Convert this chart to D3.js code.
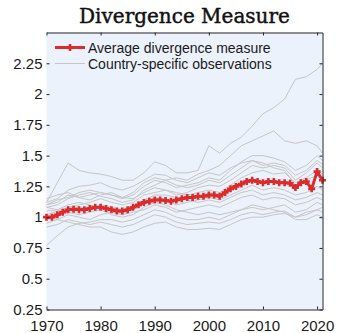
<!DOCTYPE html>
<html>
<head>
<meta charset="utf-8">
<script src="https://cdn.jsdelivr.net/npm/d3@7"></script>
<style>
  html, body { margin: 0; padding: 0; background: #ffffff; }
  svg { display: block; }
</style>
</head>
<body>
<svg id="chart" width="338" height="333"></svg>
<script>
// Average divergence measure, one value per year
const avgYears = d3.range(1970, 2022);
const avgValues = [
  1.00, 1.00, 1.02, 1.04, 1.06, 1.065, 1.06, 1.06, 1.07, 1.08,
  1.08, 1.07, 1.06, 1.05, 1.05, 1.06, 1.08, 1.10, 1.12, 1.13,
  1.14, 1.14, 1.135, 1.13, 1.14, 1.15, 1.16, 1.16, 1.17, 1.17,
  1.18, 1.18, 1.17, 1.20, 1.23, 1.25, 1.27, 1.29, 1.30, 1.29,
  1.28, 1.29, 1.29, 1.28, 1.28, 1.275, 1.24, 1.28, 1.29, 1.23,
  1.37, 1.30
];

// Country-specific observations, sampled every two years plus 2021
const countryYears = [1970, 1972, 1974, 1976, 1978, 1980, 1982, 1984, 1986, 1988,
  1990, 1992, 1994, 1996, 1998, 2000, 2002, 2004, 2006, 2008,
  2010, 2012, 2014, 2016, 2018, 2020, 2021];
const country01 = [1.12, 1.28, 1.44, 1.38, 1.36, 1.35, 1.33, 1.30, 1.30, 1.36, 1.45, 1.42, 1.36, 1.36, 1.38, 1.58, 1.52, 1.60, 1.65, 1.74, 1.84, 1.89, 1.96, 2.12, 2.14, 2.20, 2.25];
const country02 = [1.08, 1.10, 1.15, 1.18, 1.20, 1.17, 1.15, 1.12, 1.14, 1.22, 1.26, 1.30, 1.32, 1.30, 1.35, 1.38, 1.42, 1.50, 1.58, 1.62, 1.66, 1.70, 1.62, 1.60, 1.62, 1.58, 1.52];
const country03 = [1.10, 1.12, 1.18, 1.16, 1.18, 1.20, 1.18, 1.15, 1.18, 1.25, 1.30, 1.28, 1.24, 1.26, 1.28, 1.32, 1.30, 1.38, 1.45, 1.50, 1.50, 1.48, 1.45, 1.38, 1.42, 1.50, 1.46];
const country04 = [1.15, 1.18, 1.20, 1.16, 1.14, 1.18, 1.20, 1.16, 1.15, 1.20, 1.24, 1.22, 1.18, 1.20, 1.24, 1.26, 1.25, 1.30, 1.36, 1.42, 1.40, 1.42, 1.40, 1.30, 1.36, 1.44, 1.40];
const country05 = [1.02, 1.05, 1.08, 1.10, 1.12, 1.15, 1.12, 1.10, 1.12, 1.18, 1.20, 1.22, 1.20, 1.18, 1.20, 1.22, 1.20, 1.26, 1.32, 1.36, 1.38, 1.35, 1.36, 1.28, 1.32, 1.38, 1.35];
const country06 = [0.98, 1.00, 1.06, 1.08, 1.06, 1.10, 1.08, 1.06, 1.08, 1.12, 1.16, 1.14, 1.10, 1.12, 1.14, 1.16, 1.14, 1.18, 1.22, 1.26, 1.22, 1.24, 1.22, 1.18, 1.20, 1.25, 1.22];
const country07 = [0.95, 0.98, 1.02, 1.00, 0.98, 1.02, 1.04, 1.02, 1.04, 1.06, 1.10, 1.08, 1.04, 1.06, 1.08, 1.10, 1.08, 1.12, 1.16, 1.18, 1.14, 1.16, 1.15, 1.10, 1.12, 1.16, 1.14];
const country08 = [1.00, 0.98, 0.96, 0.94, 0.92, 0.92, 0.88, 0.86, 0.88, 0.92, 0.95, 0.96, 0.92, 0.90, 0.90, 0.91, 0.90, 0.94, 0.98, 1.00, 1.00, 1.02, 1.03, 1.00, 1.04, 1.06, 1.08];
const country09 = [0.77, 0.85, 0.92, 0.95, 0.96, 0.98, 0.98, 0.96, 0.98, 1.02, 1.06, 1.04, 1.00, 0.98, 0.98, 1.00, 0.98, 1.02, 1.06, 1.08, 1.06, 1.08, 1.10, 1.04, 1.06, 1.12, 1.10];
const country10 = [1.05, 1.06, 1.04, 1.02, 1.04, 1.06, 1.02, 1.00, 1.02, 1.08, 1.12, 1.10, 1.06, 1.04, 1.02, 1.04, 1.02, 1.04, 1.06, 1.10, 1.08, 1.06, 1.04, 0.98, 0.98, 1.02, 1.00];
const country11 = [1.12, 1.15, 1.22, 1.25, 1.26, 1.28, 1.24, 1.22, 1.25, 1.30, 1.35, 1.34, 1.30, 1.28, 1.32, 1.36, 1.34, 1.40, 1.44, 1.46, 1.44, 1.40, 1.38, 1.26, 1.30, 1.34, 1.30];
const country12 = [1.08, 1.06, 1.10, 1.12, 1.10, 1.08, 1.06, 1.04, 1.06, 1.14, 1.18, 1.18, 1.16, 1.14, 1.12, 1.14, 1.12, 1.16, 1.20, 1.22, 1.18, 1.20, 1.18, 1.14, 1.16, 1.20, 1.18];
const country13 = [1.10, 1.14, 1.16, 1.20, 1.22, 1.20, 1.18, 1.16, 1.20, 1.28, 1.32, 1.30, 1.26, 1.24, 1.26, 1.30, 1.28, 1.34, 1.40, 1.46, 1.42, 1.44, 1.42, 1.34, 1.38, 1.46, 1.43];
const country14 = [0.92, 0.94, 0.98, 0.96, 0.94, 0.96, 0.94, 0.92, 0.94, 0.98, 1.02, 1.00, 0.96, 0.94, 0.95, 0.96, 0.95, 0.98, 1.02, 1.04, 1.02, 1.04, 1.05, 1.00, 1.02, 1.06, 1.04];
const countrySeries = [country01, country02, country03, country04, country05, country06,
  country07, country08, country09, country10, country11, country12, country13, country14];

// Axis ticks
const xTicks = [1970, 1980, 1990, 2000, 2010, 2020];
const yTicks = [0.25, 0.5, 0.75, 1, 1.25, 1.5, 1.75, 2, 2.25];
const yTickLabels = ["0.25", "0.5", "0.75", "1", "1.25", "1.5", "1.75", "2", "2.25"];

const titleText = "Divergence Measure";
const legendLabels = ["Average divergence measure", "Country-specific observations"];

const svg = d3.select("#chart");
const frame = { left: 46.5, right: 322.5, top: 32.5, bottom: 309.5 };

const x = d3.scaleLinear().domain([1970, 2021]).range([frame.left, frame.right]);
const y = d3.scaleLinear().domain([0.25, 2.5]).range([frame.bottom, frame.top]);

const red = "#dd2a2a";
const gray = "#c6c6c6";
const axisColor = "#262626";

// Plot background
svg.append("rect")
  .attr("x", frame.left).attr("y", frame.top)
  .attr("width", frame.right - frame.left).attr("height", frame.bottom - frame.top)
  .attr("fill", "#ebf2fc");

// Title
svg.append("text")
  .attr("x", 184.5).attr("y", 23)
  .attr("text-anchor", "middle")
  .attr("font-family", "'DejaVu Serif', serif")
  .attr("font-size", 20)
  .attr("fill", "#111")
  .attr("stroke", "#111")
  .attr("stroke-width", 0.45)
  .text(titleText);

const plot = svg.append("g");

// Country lines
const countryLine = d3.line()
  .x((d, i) => x(countryYears[i]))
  .y(d => y(d));
plot.selectAll("path.country")
  .data(countrySeries)
  .join("path")
  .attr("class", "country")
  .attr("fill", "none")
  .attr("stroke", gray)
  .attr("stroke-width", 1)
  .attr("d", countryLine);

// Average line with plus markers
const avgLine = d3.line()
  .x((d, i) => x(avgYears[i]))
  .y(d => y(d));
plot.append("path")
  .datum(avgValues)
  .attr("fill", "none")
  .attr("stroke", red)
  .attr("stroke-width", 3)
  .attr("stroke-linejoin", "round")
  .attr("d", avgLine);

const plus = "M-3.5,0H3.5M0,-3.5V3.5";
plot.selectAll("path.mark")
  .data(avgValues)
  .join("path")
  .attr("class", "mark")
  .attr("transform", (d, i) => `translate(${x(avgYears[i])},${y(d)})`)
  .attr("d", plus)
  .attr("stroke", red)
  .attr("stroke-width", 2.6)
  .attr("fill", "none");

// Axes with inward ticks
const fontSize = 15;
const gx = svg.append("g")
  .attr("transform", `translate(0,${frame.bottom})`)
  .call(d3.axisBottom(x).tickValues(xTicks).tickFormat(d3.format("d"))
    .tickSizeInner(-3).tickSizeOuter(0).tickPadding(10.5));
const gy = svg.append("g")
  .attr("transform", `translate(${frame.left},0)`)
  .call(d3.axisLeft(y).tickValues(yTicks).tickFormat((d, i) => yTickLabels[i])
    .tickSizeInner(-3).tickSizeOuter(0).tickPadding(4));
gy.select(".domain").remove();
const gt = svg.append("g")
  .attr("transform", `translate(0,${frame.top})`)
  .call(d3.axisTop(x).tickValues(xTicks).tickFormat("")
    .tickSizeInner(-3).tickSizeOuter(0));
const gr = svg.append("g")
  .attr("transform", `translate(${frame.right},0)`)
  .call(d3.axisRight(y).tickValues(yTicks).tickFormat("")
    .tickSizeInner(-3).tickSizeOuter(0));

[gx, gy, gt, gr].forEach(g => {
  g.attr("font-size", fontSize).attr("font-family", "'Liberation Sans', Arial, sans-serif");
  g.selectAll(".domain").attr("stroke", axisColor).attr("stroke-width", 1);
  g.selectAll(".tick line").attr("stroke", axisColor).attr("stroke-width", 1);
  g.selectAll(".tick text").attr("fill", "#1a1a1a");
});

// Legend
const legend = svg.append("g")
  .attr("font-family", "'Liberation Sans', Arial, sans-serif")
  .attr("font-size", 14)
  .attr("fill", "#1a1a1a");
legend.append("line")
  .attr("x1", 55).attr("x2", 85).attr("y1", 47.5).attr("y2", 47.5)
  .attr("stroke", red).attr("stroke-width", 3);
legend.append("path")
  .attr("transform", "translate(70,47.5)")
  .attr("d", plus)
  .attr("stroke", red).attr("stroke-width", 2.6);
legend.append("line")
  .attr("x1", 55).attr("x2", 85).attr("y1", 63.5).attr("y2", 63.5)
  .attr("stroke", gray).attr("stroke-width", 1);
legend.selectAll("text")
  .data(legendLabels)
  .join("text")
  .attr("x", 88)
  .attr("y", (d, i) => 52.5 + i * 16)
  .text(d => d);
</script>
</body>
</html>
